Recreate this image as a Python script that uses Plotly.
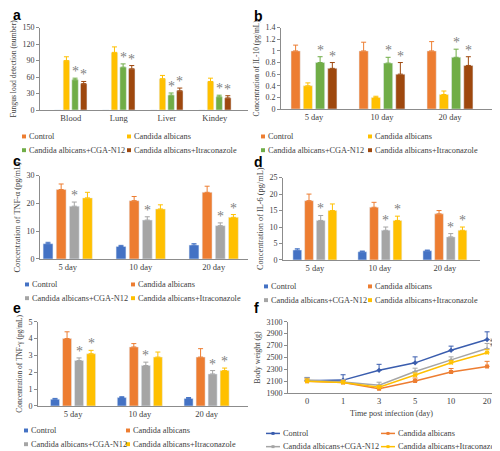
import plotly.graph_objects as go

W, H = 500, 451

# ---------------- data ----------------
groups = ["Control", "Candida albicans", "Candida albicans+CGA-N12", "Candida albicans+Itraconazole"]

# (a) fungus load
organs = ["Blood", "Lung", "Liver", "Kindey"]
a_control = [0, 0, 0, 0]
a_ca = [90, 105, 57, 52]
a_ca_err = [7, 10, 6, 6]
a_cga = [55, 78, 27, 24]
a_cga_err = [3, 6, 4, 3]
a_itra = [48, 75, 35, 22]
a_itra_err = [4, 6, 5, 4]
a_cga_sig = [1, 1, 1, 1]
a_itra_sig = [1, 1, 1, 1]

days = ["5 day", "10 day", "20 day"]

# (b) IL-10
b_control = [1.0, 1.0, 1.0]
b_control_err = [0.1, 0.15, 0.16]
b_ca = [0.4, 0.2, 0.25]
b_ca_err = [0.05, 0.02, 0.06]
b_cga = [0.8, 0.79, 0.89]
b_cga_err = [0.1, 0.1, 0.14]
b_itra = [0.7, 0.6, 0.75]
b_itra_err = [0.1, 0.2, 0.15]
b_cga_sig = [1, 1, 1]
b_itra_sig = [1, 1, 1]

# (c) TNF-alpha
c_control = [5.5, 4.5, 5.0]
c_control_err = [0.5, 0.4, 0.5]
c_ca = [25, 21, 24]
c_ca_err = [2, 1.5, 2.2]
c_cga = [19, 14, 12]
c_cga_err = [1.5, 1.2, 1.0]
c_itra = [22, 18, 15]
c_itra_err = [2, 1.5, 1.0]
c_cga_sig = [1, 1, 1]
c_itra_sig = [0, 0, 1]

# (d) IL-6
d_control = [3.0, 2.5, 2.8]
d_control_err = [0.4, 0.2, 0.2]
d_ca = [18, 16, 14]
d_ca_err = [2, 1.5, 1.0]
d_cga = [12, 9, 7]
d_cga_err = [1.5, 1.0, 1.0]
d_itra = [15, 12, 9]
d_itra_err = [2, 1.3, 1.0]
d_cga_sig = [1, 1, 1]
d_itra_sig = [0, 1, 1]

# (e) TNF-gamma
e_control = [0.4, 0.5, 0.45]
e_control_err = [0.05, 0.05, 0.05]
e_ca = [4.0, 3.5, 2.9]
e_ca_err = [0.4, 0.2, 0.5]
e_cga = [2.7, 2.4, 1.9]
e_cga_err = [0.15, 0.2, 0.2]
e_itra = [3.1, 2.9, 2.1]
e_itra_err = [0.2, 0.3, 0.15]
e_cga_sig = [1, 1, 1]
e_itra_sig = [1, 0, 1]

# (f) body weight
f_days = ["0", "1", "3", "5", "10", "20"]
f_control = [2110, 2120, 2285, 2410, 2620, 2800]
f_control_err = [55, 90, 100, 100, 70, 130]
f_ca = [2100, 2080, 1975, 2105, 2255, 2350]
f_ca_err = [40, 40, 30, 50, 60, 85]
f_cga = [2120, 2090, 2035, 2265, 2460, 2650]
f_cga_err = [40, 40, 50, 55, 50, 85]
f_itra = [2100, 2080, 2000, 2200, 2410, 2580]
f_itra_err = [40, 30, 30, 40, 40, 50]

# ---------------- style ----------------
BLUE = "#4472C4"
ORANGE = "#ED7D31"
GRAY = "#A5A5A5"
YELLOW = "#FFC000"
GREEN = "#70AD47"
BROWN = "#9E480E"
LBLUE = "#3A5DAE"
TXT = "#404040"
AX = "#8C8C8C"
SERIF = "Liberation Serif, Times New Roman, serif"
SANS = "Liberation Sans, Arial, sans-serif"
BARGAP = 0.28

def px(x):
    return x / W

def py(y):
    return 1 - y / H

fig = go.Figure()
annotations = []
shapes = []

panels = [
    dict(key="", cats=organs, xd=(32, 240), yd=(16, 100), rng=(-0.64, 3.69), yr=(0, 150), dt=30,
         title="Fungus load detection (number)", tfs=7.6, label="a", lab_xy=(3, 3),
         series=[(a_control, None, ORANGE, None), (a_ca, a_ca_err, YELLOW, None),
                 (a_cga, a_cga_err, GREEN, a_cga_sig), (a_itra, a_itra_err, BROWN, a_itra_sig)],
         leg=[(14, 127), (119, 127), (14, 141), (119, 141)]),
    dict(key="2", cats=days, xd=(273, 493), yd=(16, 99), rng=(-0.485, 2.75), yr=(0, 1.4), dt=0.2,
         title="Concentration of IL-10 (pg/mL)", tfs=7.5, label="b", lab_xy=(244, 4),
         series=[(b_control, b_control_err, ORANGE, None), (b_ca, b_ca_err, YELLOW, None),
                 (b_cga, b_cga_err, GREEN, b_cga_sig), (b_itra, b_itra_err, BROWN, b_itra_sig)],
         leg=[(253, 127), (360, 127), (253, 141), (360, 141)]),
    dict(key="3", cats=days, xd=(32, 240), yd=(167, 252), rng=(-0.38, 2.47), yr=(0, 30), dt=10,
         title="Concentration of TNF-α (pg/mL)", tfs=8.3, label="c", lab_xy=(3, 152),
         series=[(c_control, c_control_err, BLUE, None), (c_ca, c_ca_err, ORANGE, None),
                 (c_cga, c_cga_err, GRAY, c_cga_sig), (c_itra, c_itra_err, YELLOW, c_itra_sig)],
         leg=[(17, 278), (123, 278), (17, 292), (123, 292)]),
    dict(key="4", cats=days, xd=(275, 472), yd=(169, 253), rng=(-0.49, 2.54), yr=(0, 25), dt=5,
         title="Concentration of IL-6 (pg/mL)", tfs=8.3, label="d", lab_xy=(244, 153),
         series=[(d_control, d_control_err, BLUE, None), (d_ca, d_ca_err, ORANGE, None),
                 (d_cga, d_cga_err, GRAY, d_cga_sig), (d_itra, d_itra_err, YELLOW, d_itra_sig)],
         leg=[(256, 280), (360, 280), (256, 294), (360, 294)]),
    dict(key="5", cats=days, xd=(30, 240), yd=(316, 402), rng=(-0.525, 2.62), yr=(0, 5), dt=1,
         title="Concentration of TNF-γ (pg/mL)", tfs=7.4, label="e", lab_xy=(3, 302),
         series=[(e_control, e_control_err, BLUE, None), (e_ca, e_ca_err, ORANGE, None),
                 (e_cga, e_cga_err, GRAY, e_cga_sig), (e_itra, e_itra_err, YELLOW, e_itra_sig)],
         leg=[(16, 427), (118, 427), (16, 441), (118, 441)]),
]

layout_axes = {}

def axis_common():
    return dict(showline=True, linecolor=AX, linewidth=1, showgrid=False, zeroline=False,
                tickfont=dict(family=SERIF, size=8.5, color=TXT))

for p in panels:
    k = p["key"]
    xa = "x" + k
    ya = "y" + k
    n = len(p["cats"])
    for j, (vals, err, color, sig) in enumerate(p["series"]):
        ey = None
        if err is not None:
            ey = dict(type="data", array=err, arrayminus=[0] * n, symmetric=False,
                      color=color, thickness=1, width=2.5)
        fig.add_trace(go.Bar(x=p["cats"], y=vals, name=groups[j], marker_color=color,
                             error_y=ey, xaxis=xa, yaxis=ya, showlegend=False))
        if sig is not None:
            off = (j - 1.5) * (1 - BARGAP) / 4
            for i in range(n):
                if sig[i]:
                    annotations.append(dict(x=i + off, y=vals[i] + err[i], xref=xa, yref=ya,
                                            text="*", showarrow=False, yanchor="bottom",
                                            yshift=-3,
                                            font=dict(family=SERIF, size=14, color="#7F7F7F")))
    xd, yd = p["xd"], p["yd"]
    xaxis = axis_common()
    xaxis.update(domain=[px(xd[0]), px(xd[1])], anchor=ya, type="category", range=list(p["rng"]),
                 ticks="")
    yaxis = axis_common()
    yaxis.update(domain=[py(yd[1]), py(yd[0])], anchor=xa, range=list(p["yr"]),
                 tick0=0, dtick=p["dt"],
                 ticks="outside", ticklen=3, tickcolor=AX, tickwidth=1,
                 tickfont=dict(family=SERIF, size=8, color=TXT),
                 title=dict(text=p["title"], standoff=4,
                            font=dict(family=SERIF, size=p["tfs"], color=TXT)))
    layout_axes["xaxis" + k] = xaxis
    layout_axes["yaxis" + k] = yaxis
    # legend (drawn as key boxes + text)
    for j, (lx, ly) in enumerate(p["leg"]):
        color = p["series"][j][2]
        shapes.append(dict(type="rect", xref="paper", yref="paper",
                           x0=px(lx), x1=px(lx + 4), y0=py(ly + 2), y1=py(ly - 2),
                           fillcolor=color, line=dict(width=0)))
        annotations.append(dict(x=px(lx + 5), y=py(ly), xref="paper", yref="paper",
                                text=groups[j], showarrow=False, xanchor="left",
                                yanchor="middle",
                                font=dict(family=SERIF, size=8.3, color=TXT)))
    annotations.append(dict(x=px(p["lab_xy"][0]), y=py(p["lab_xy"][1]), xref="paper",
                            yref="paper", text="<b>%s</b>" % p["label"], showarrow=False,
                            xanchor="left", yanchor="middle",
                            font=dict(family=SANS, size=14, color="black")))

# ---------------- panel f ----------------
f_series = [(f_control, f_control_err, LBLUE, "diamond"),
            (f_ca, f_ca_err, ORANGE, "square"),
            (f_cga, f_cga_err, GRAY, "triangle-up"),
            (f_itra, f_itra_err, YELLOW, "x")]
nf = len(f_days)
for j, (vals, err, color, sym) in enumerate(f_series):
    fig.add_trace(go.Scatter(x=f_days, y=vals, name=groups[j], mode="lines+markers",
                             line=dict(color=color, width=1.5),
                             marker=dict(color=color, size=4, symbol=sym),
                             error_y=dict(type="data", array=err, arrayminus=[0] * nf,
                                          symmetric=False, color=color, thickness=1, width=2.5),
                             xaxis="x6", yaxis="y6", showlegend=False))

xaxis6 = axis_common()
xaxis6.update(domain=[px(280), px(487)], anchor="y6", type="category", range=[-0.53, 5.22],
              ticks="", title=dict(text="Time post infection (day)", standoff=4,
                                   font=dict(family=SERIF, size=8.2, color=TXT)))
yaxis6 = axis_common()
yaxis6.update(domain=[py(389), py(316)], anchor="x6", range=[1900, 3100], tick0=1900, dtick=200,
              ticks="outside", ticklen=3, tickcolor=AX, tickwidth=1,
              tickfont=dict(family=SERIF, size=8, color=TXT),
              title=dict(text="Body weight (g)", standoff=4,
                         font=dict(family=SERIF, size=8, color=TXT)))
layout_axes["xaxis6"] = xaxis6
layout_axes["yaxis6"] = yaxis6

f_leg = [(258, 430), (373, 430), (258, 443.5), (373, 443.5)]
for j, (lx, ly) in enumerate(f_leg):
    color = f_series[j][2]
    shapes.append(dict(type="line", xref="paper", yref="paper", x0=px(lx), x1=px(lx + 14),
                       y0=py(ly), y1=py(ly), line=dict(color=color, width=1.5)))
    shapes.append(dict(type="rect", xref="paper", yref="paper", x0=px(lx + 5.5), x1=px(lx + 8.5),
                       y0=py(ly + 1.5), y1=py(ly - 1.5), fillcolor=color, line=dict(width=0)))
    annotations.append(dict(x=px(lx + 15), y=py(ly), xref="paper", yref="paper",
                            text=groups[j], showarrow=False, xanchor="left", yanchor="middle",
                            font=dict(family=SERIF, size=8.3, color=TXT)))
annotations.append(dict(x=px(489), y=py(345), xref="paper", yref="paper", text="**",
                        textangle=90, showarrow=False,
                        font=dict(family=SERIF, size=9, color="#595959")))
annotations.append(dict(x=px(244), y=py(302), xref="paper", yref="paper", text="<b>f</b>",
                        showarrow=False, xanchor="left", yanchor="middle",
                        font=dict(family=SANS, size=14, color="black")))

fig.update_layout(
    width=W, height=H, margin=dict(l=0, r=0, t=0, b=0),
    paper_bgcolor="white", plot_bgcolor="white",
    barmode="group", bargap=BARGAP, bargroupgap=0.25,
    showlegend=False, annotations=annotations, shapes=shapes,
    **layout_axes,
)

fig.write_html("out.html")
